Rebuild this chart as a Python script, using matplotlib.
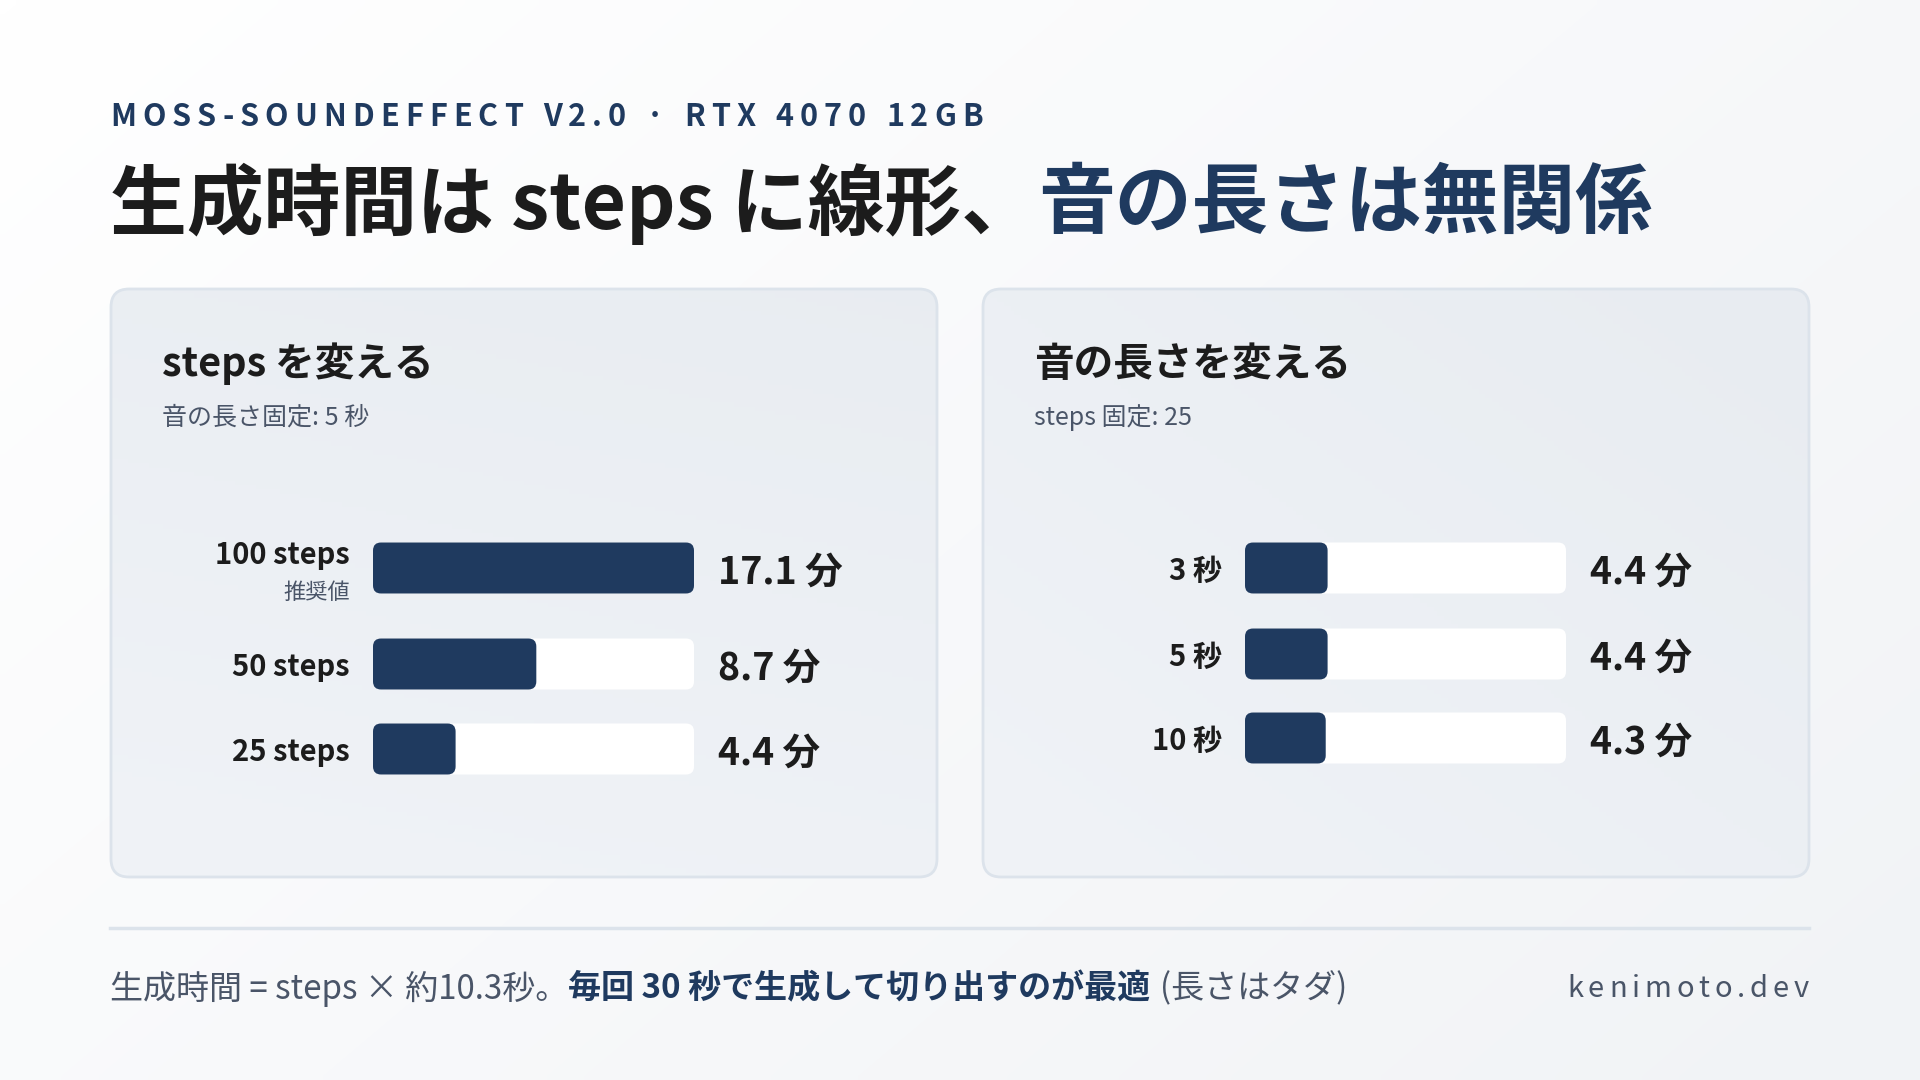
import numpy as np
import matplotlib
matplotlib.use('Agg')
import matplotlib.pyplot as plt
from matplotlib.patches import FancyBboxPatch
from matplotlib.colors import LinearSegmentedColormap

plt.rcParams['font.family'] = ['Noto Sans CJK JP', 'DejaVu Sans']

# ---- data ----
eyebrow = 'MOSS-SOUNDEFFECT V2.0 · RTX 4070 12GB'
title_a = '生成時間は steps に線形、'
title_b = '音の長さは無関係'

panel_titles = ['steps を変える', '音の長さを変える']
panel_subs = ['音の長さ固定: 5 秒', 'steps 固定: 25']

steps_labels = ['100 steps', '50 steps', '25 steps']
steps_minutes = [17.1, 8.7, 4.4]
steps_note = '推奨値'

length_labels = ['3 秒', '5 秒', '10 秒']
length_minutes = [4.4, 4.4, 4.3]

footer_a = '生成時間 = steps × 約10.3秒。'
footer_b = '毎回 30 秒で生成して切り出すのが最適'
footer_c = '(長さはタダ)'
site = 'kenimoto.dev'

# ---- style ----
NAVY = '#1f3a5f'
INK = '#1c1c1c'
GRAY = '#4a5568'
BORDER = '#dce3eb'
W, H = 1920, 1080

fig = plt.figure(figsize=(19.2, 10.8), dpi=100)
bg = fig.add_axes([0, 0, 1, 1])
bg.set_xlim(0, W)
bg.set_ylim(H, 0)
bg.axis('off')
renderer = fig.canvas.get_renderer()

# page gradient
xx, yy = np.meshgrid(np.linspace(0, 1, 240), np.linspace(0, 1, 135))
page_cmap = LinearSegmentedColormap.from_list('page', ['#ffffff', '#f1f3f6'])
bg.imshow((xx * 0.6 + yy * 0.4), extent=(0, W, H, 0), cmap=page_cmap,
          aspect='auto', zorder=0, interpolation='bilinear')


def spaced(x, y, s, size, color, weight, target_w):
    # letter-spaced text fitted to a target width
    widths = []
    for ch in s:
        if ch == ' ':
            widths.append(size * 100 / 72 * 0.26)
        else:
            t = bg.text(0, 0, ch, fontsize=size, weight=weight)
            widths.append(t.get_window_extent(renderer).width)
            t.remove()
    gap = (target_w - sum(widths)) / (len(s) - 1)
    for ch, w in zip(s, widths):
        if ch != ' ':
            bg.text(x, y, ch, fontsize=size, weight=weight, color=color,
                    va='center', ha='left', zorder=5)
        x += w + gap


def run(x, y, parts, size):
    # consecutive text pieces with their own colour / weight
    for s, weight, color, lead in parts:
        x += lead
        t = bg.text(x, y, s, fontsize=size, weight=weight, color=color,
                    va='center', ha='left', zorder=5)
        x += t.get_window_extent(renderer).width
    return x


# header
spaced(110, 117, eyebrow, 22, NAVY, 'bold', 873)
run(110, 204, [(title_a, 'bold', INK, 0), (title_b, 'bold', NAVY, 0)], 55.3)

# panels
panel_x = [111, 983]
panel_w, panel_top, panel_h = 826, 289, 588
panel_cmap = LinearSegmentedColormap.from_list('panel', ['#f0f3f7', '#e8ecf1'])
for i, x0 in enumerate(panel_x):
    box = FancyBboxPatch((x0, panel_top), panel_w, panel_h,
                         boxstyle='round,pad=0,rounding_size=18',
                         fc='none', ec=BORDER, lw=2, zorder=2)
    bg.add_patch(box)
    grad = bg.imshow(yy[::-1] * 0.5 + xx * 0.5 if i else (1 - yy) * 0.7 + xx * 0.2,
                     extent=(x0, x0 + panel_w, panel_top + panel_h, panel_top),
                     cmap=panel_cmap, aspect='auto', zorder=1, vmin=0, vmax=1)
    grad.set_clip_path(box)
    bg.text(x0 + 51, 364, panel_titles[i], fontsize=28.5, weight='bold',
            color=INK, va='center', ha='left', zorder=5)
    bg.text(x0 + 51, 418, panel_subs[i], fontsize=18, color=GRAY,
            va='center', ha='left', zorder=5)


def bar_panel(x_left, labels, values, centers, vmax, note=None):
    track_w = 321
    ytop, ybot = 500, 800
    ax = fig.add_axes([x_left / W, (H - ybot) / H, track_w / W, (ybot - ytop) / H])
    ax.set_xlim(0, vmax)
    ax.set_ylim(ybot, ytop)
    ax.axis('off')
    ax.patch.set_alpha(0)
    ux = vmax / track_w
    bar_h = 51
    for lab, v, yc in zip(labels, values, centers):
        for length, col, z in [(vmax, 'white', 3), (v, NAVY, 4)]:
            ax.add_patch(FancyBboxPatch((0, yc - bar_h / 2), length, bar_h,
                                        boxstyle=f'round,pad=0,rounding_size={8 * ux}',
                                        mutation_aspect=1 / ux, fc=col, ec='none', zorder=z))
        ax.annotate(f'{v:.1f} 分', xy=(vmax, yc), xytext=(24, -4),
                    textcoords='offset pixels', ha='left', va='center',
                    fontsize=27, weight='bold', color=INK, annotation_clip=False)
        dy = -3
        if note is not None and lab == labels[0]:
            dy = 13
            ax.annotate(note, xy=(0, yc), xytext=(-23, -24),
                        textcoords='offset pixels', ha='right', va='center',
                        fontsize=16, color=GRAY, annotation_clip=False)
        ax.annotate(lab, xy=(0, yc), xytext=(-23, dy),
                    textcoords='offset pixels', ha='right', va='center',
                    fontsize=21, weight='bold', color=INK, annotation_clip=False)
    return ax


vmax = max(steps_minutes + length_minutes)
bar_panel(373, steps_labels, steps_minutes, [568, 664, 749], vmax, note=steps_note)
bar_panel(1245, length_labels, length_minutes, [568, 654, 738], vmax)

# footer
bg.plot([110, 1809], [928, 928], color=BORDER, lw=2.5, zorder=3)
run(110, 989, [(footer_a, 'normal', GRAY, 0), (footer_b, 'bold', NAVY, 0),
               (footer_c, 'normal', GRAY, 10)], 23.8)
spaced(1567, 989, site, 21, GRAY, 'normal', 242)

fig.savefig('out.png', dpi=100)
